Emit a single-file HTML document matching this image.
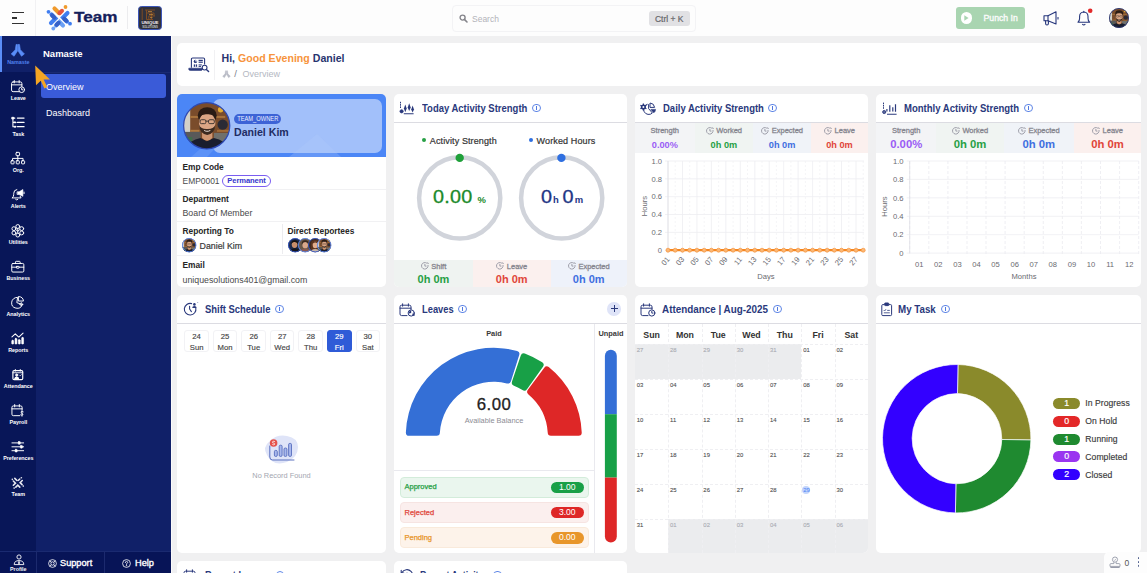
<!DOCTYPE html>
<html lang="en">
<head>
<meta charset="utf-8">
<title>Team - Overview</title>
<style>
*{box-sizing:border-box;margin:0;padding:0}
html,body{width:1147px;height:573px;overflow:hidden}
body{font-family:"Liberation Sans",sans-serif;background:#f0f0f1;color:#222;position:relative;font-size:9px}
.abs{position:absolute}
svg{display:block;overflow:visible}
/* header */
#hdr{position:absolute;left:0;top:0;width:1147px;height:36px;background:#fdfdfd}
/* sidebars */
#rail{position:absolute;left:0;top:36px;width:36px;height:537px;background:#081658}
#side{position:absolute;left:36px;top:36px;width:135px;height:537px;background:#102068}
.ri{position:absolute;left:0;width:36.6px;text-align:center;color:#f4f4f8;font-size:5.4px;font-weight:bold;letter-spacing:-.05px;white-space:nowrap}
.ri svg{margin:0 auto}
/* cards */
.card{position:absolute;background:#fff;border-radius:5px;overflow:hidden}
.info{display:inline-block;width:8.8px;height:8.8px;border:1px solid #5f86e6;border-radius:50%;position:relative}
.info:before{content:"";position:absolute;left:2.95px;top:2.9px;width:.9px;height:2.7px;background:#4f78e0}
.info:after{content:"";position:absolute;left:2.95px;top:1.3px;width:.9px;height:.9px;background:#4f78e0}
.lb{position:absolute;left:5.5px;font-size:8.35px;font-weight:bold;color:#262626;line-height:11px;white-space:nowrap}
.vl{position:absolute;left:5.5px;font-size:8.8px;color:#4a4a4a;line-height:11px;white-space:nowrap}
.hr{position:absolute;left:0;right:0;height:1px;background:#f1f1f3}
.ct{position:absolute;left:0;top:0;right:0;height:29px;border-bottom:1.3px solid #dcdce2;color:#2a397c;font-weight:bold;font-size:9.5px;line-height:14px;white-space:nowrap}
.ct .t{position:absolute;top:7.6px;font-size:10px;transform-origin:0 50%}
.ct .info{position:absolute;top:9.9px;margin:-.4px 0 0 -.4px}
.sc{position:absolute;text-align:center;white-space:nowrap}
.sc .l{position:absolute;left:0;right:0;font-size:7.5px;line-height:10px;color:#86868f;-webkit-text-stroke:.3px #86868f}
.sc .v{position:absolute;left:0;right:0;font-weight:bold}
.ck{display:inline-block;vertical-align:-1.4px;margin-right:2.6px}
.gr{color:#27a045}.rd{color:#e0453a}.bl{color:#3f6fe0}.pu{color:#9a5cf5}
.ax{font-size:7.6px;fill:#6a6a70;font-family:"Liberation Sans",sans-serif}
.dy{position:absolute;top:34.8px;width:24.6px;height:22px;border:1px solid #f2f2f5;border-radius:3px;text-align:center;font-size:7.7px;line-height:11px;color:#454545;padding-top:0;-webkit-text-stroke:.15px currentColor}
.cc{position:absolute;font-size:5.9px;line-height:8px;padding:2.1px 0 0 1.8px;-webkit-text-stroke:.1px currentColor}
</style>
</head>
<body>

<svg width="0" height="0" style="position:absolute">
<defs>
<symbol id="face" viewBox="0 0 46 46">
  <clipPath id="fc"><circle cx="23" cy="23" r="22.5"/></clipPath>
  <g clip-path="url(#fc)">
    <rect width="46" height="46" fill="#7a4c2b"/>
    <rect x="0" y="6" width="7" height="30" fill="#d2d0c8"/>
    <rect x="7" y="13.5" width="34" height="2" fill="#a8733c"/>
    <rect x="7" y="27" width="9" height="2" fill="#b07a40"/>
    <rect x="33" y="27" width="13" height="2" fill="#a06a36"/>
    <rect x="0" y="29" width="17" height="17" fill="#595959"/>
    <rect x="3" y="34" width="6" height="8" fill="#3f6e4a"/>
    <circle cx="36.5" cy="7.5" r="2.6" fill="#e2ac34"/>
    <circle cx="38.5" cy="22" r="5" fill="#2b2a35"/>
    <rect x="30" y="30" width="14" height="10" fill="#70706c"/>
    <path d="M2 46 Q6 37 17 35 L23 38 L30 35 Q41 37 45 46 Z" fill="#1a1e2e"/>
    <path d="M18.5 28 H28.5 V35 Q23.5 40 18.5 35 Z" fill="#cf9672"/>
    <ellipse cx="23.5" cy="13" rx="9.2" ry="8" fill="#2a1c15"/>
    <ellipse cx="23.5" cy="20.5" rx="8" ry="10" fill="#dba685"/>
    <path d="M15.6 22 Q16 30.5 23.5 32 Q31 30.5 31.4 22 Q29.5 26.5 23.5 26.2 Q17.5 26.5 15.6 22 Z" fill="#3b2a20"/>
    <path d="M20.5 27.5 Q23.5 29.3 26.5 27.5" stroke="#f0e6e0" stroke-width="1" fill="none"/>
    <path d="M15.5 14.5 Q18 9 23.5 9.5 Q29 9 31.5 14.5 Q28 11.5 23.5 12 Q19 11.5 15.5 14.5 Z" fill="#2a1c15"/>
    <g stroke="#3a332f" stroke-width=".9" fill="none"><rect x="16.6" y="17.2" width="5.6" height="3.8" rx="1.2"/><rect x="24.8" y="17.2" width="5.6" height="3.8" rx="1.2"/><path d="M22.2 18.6 H24.8"/></g>
  </g>
</symbol>
<symbol id="face2" viewBox="0 0 46 46"><clipPath id="fc2"><circle cx="23" cy="23" r="22.5"/></clipPath><g clip-path="url(#fc2)"><rect width="46" height="46" fill="#1d2a4a"/><path d="M4 46 Q8 34 23 33 Q38 34 42 46 Z" fill="#15161c"/><ellipse cx="21" cy="21" rx="9" ry="11" fill="#c98e6a"/><path d="M11 20 Q10 6 23 7 Q34 7 31 19 Q27 12 19 13 Q13 14 11 20 Z" fill="#1a1410"/></g></symbol>
<symbol id="face3" viewBox="0 0 46 46"><clipPath id="fc3"><circle cx="23" cy="23" r="22.5"/></clipPath><g clip-path="url(#fc3)"><rect width="46" height="46" fill="#6a5848"/><path d="M4 46 Q8 35 23 34 Q38 35 42 46 Z" fill="#8a5a50"/><ellipse cx="23" cy="22" rx="9" ry="11" fill="#d9a88a"/><path d="M12 22 Q10 7 23 7 Q36 7 34 22 Q31 13 23 13 Q15 13 12 22 Z" fill="#3a2a1e"/></g></symbol>
<symbol id="face4" viewBox="0 0 46 46"><clipPath id="fc4"><circle cx="23" cy="23" r="22.5"/></clipPath><g clip-path="url(#fc4)"><rect width="46" height="46" fill="#3a2a22"/><path d="M9 46 V22 Q9 6 23 6 Q37 6 37 22 V46 Z" fill="#5a3420"/><path d="M6 46 Q10 36 23 35 Q36 36 40 46 Z" fill="#c9b8a8"/><ellipse cx="23" cy="22" rx="8" ry="10.5" fill="#e0ad8c"/><path d="M14 20 Q15 10 23 10 Q31 10 32 20 Q28 14 23 14.5 Q18 14 14 20 Z" fill="#5a3420"/></g></symbol>
</defs>
</svg>
<!-- ================= HEADER ================= -->
<div id="hdr">
  <!-- hamburger -->
  <div class="abs" style="left:12px;top:12px;width:12px;height:1.4px;background:#333"></div>
  <div class="abs" style="left:12px;top:17.3px;width:5px;height:1.4px;background:#333"></div>
  <div class="abs" style="left:12px;top:22.6px;width:12px;height:1.4px;background:#333"></div>
  <div class="abs" style="left:35px;top:0;width:1px;height:36px;background:#f1f1f3"></div>
  <!-- logo mark -->
  <svg class="abs" style="left:46px;top:4px" width="27" height="28" viewBox="0 0 27 28">
    <g stroke-linecap="round" fill="none" stroke-width="4.1">
      <path d="M8.5 4.5 L13 9" stroke="#f09a2c"/>
      <path d="M13.5 9.2 L16 6.8" stroke="#e4533f"/>
      <path d="M5.5 10.5 L9.5 14.5 L5 19" stroke="#3f7df0"/>
      <path d="M6.2 11.5 L8.3 13.6" stroke="#3560c8"/>
      <path d="M21.5 9 L17 13.5 L21 17.5" stroke="#3f7df0"/>
      <path d="M18.2 14.7 L20.2 16.7" stroke="#3560c8"/>
      <path d="M10 21.5 L13.5 18 L17 21.5" stroke="#6ba0f5"/>
      <path d="M10.6 20.8 L12.6 18.8" stroke="#3560c8"/>
    </g>
    <circle cx="19.5" cy="3" r="1.9" fill="#f09a2c"/>
    <circle cx="2.5" cy="7.8" r="1.9" fill="#3f7df0"/>
    <circle cx="24" cy="19.7" r="1.9" fill="#3f7df0"/>
    <circle cx="7.3" cy="24.5" r="1.9" fill="#6ba0f5"/>
  </svg>
  <div class="abs" style="left:74px;top:8.3px;font-size:14px;font-weight:bold;color:#14205a;line-height:19px;transform:scaleX(1.225);transform-origin:0 0;-webkit-text-stroke:.3px #14205a">Team</div>
  <div class="abs" style="left:127px;top:6px;width:1px;height:23px;background:#ececee"></div>
  <!-- company logo -->
  <div class="abs" style="left:138px;top:6px;width:23.5px;height:24px;border-radius:3.5px;background:#31313b;border:1px solid #3b55b8;overflow:hidden">
    <svg class="abs" style="left:0;top:0" width="22" height="22" viewBox="0 0 22 22">
      <path d="M3.2 1.5 V13 M6 3 H16 M7.5 3 V12.5 M7.5 6 H15 M15 6 V9 M9.8 9 H16 M9.8 9 V12 M12.5 6 V12 M7.5 12.5 H14" stroke="#7d4c24" stroke-width="1" fill="none"/>
      <path d="M9 4.6 H13 M10 7.6 H14 M11 10.6 H13.5" stroke="#c78a3a" stroke-width=".8" fill="none"/>
      <text x="11" y="17.2" font-size="4.4" font-weight="bold" fill="#f2f2f2" text-anchor="middle" font-family="Liberation Sans, sans-serif">UNIQUE</text>
      <text x="11" y="20.6" font-size="2.7" font-weight="bold" fill="#cfcfcf" text-anchor="middle" font-family="Liberation Sans, sans-serif">SOLUTIONS</text>
    </svg>
  </div>
  <!-- search -->
  <div class="abs" style="left:452px;top:5px;width:243.5px;height:26.5px;border:1px solid #f3f3f5;border-radius:4px;background:#fdfdfd"></div>
  <svg class="abs" style="left:459px;top:13.5px" width="9" height="9" viewBox="0 0 9 9"><circle cx="3.6" cy="3.6" r="2.5" fill="none" stroke="#85858b" stroke-width="1.4"/><path d="M5.6 5.6 L8 8" stroke="#85858b" stroke-width="1.6" stroke-linecap="round"/></svg>
  <div class="abs" style="left:472px;top:12.5px;font-size:8.5px;line-height:12px;color:#b3b3ba">Search</div>
  <div class="abs" style="left:649px;top:11px;width:40.5px;height:15px;border-radius:3px;background:#e1e1e4;color:#66666a;font-size:8.5px;line-height:16px;text-align:center;-webkit-text-stroke:.2px #66666a">Ctrl + K</div>
  <!-- punch in -->
  <div class="abs" style="left:955.5px;top:7px;width:69px;height:22px;border-radius:3px;background:#a9d5b1"></div>
  <div class="abs" style="left:960.5px;top:12.3px;width:11.4px;height:11.4px;border-radius:50%;background:#fff"></div>
  <svg class="abs" style="left:964.3px;top:15.2px" width="5" height="6" viewBox="0 0 5 6"><path d="M.3 .3 L4.6 3 L.3 5.7 Z" fill="#a9d5b1"/></svg>
  <div class="abs" style="left:983.5px;top:12px;font-size:8.7px;line-height:12px;color:#fbfbfb;-webkit-text-stroke:.35px #fbfbfb">Punch In</div>
  <!-- megaphone -->
  <svg class="abs" style="left:1042px;top:10px" width="18" height="17" viewBox="0 0 18 17">
    <g fill="none" stroke="#26367c" stroke-width="1.1" stroke-linejoin="round" stroke-linecap="round">
      <path d="M2 5.8 H6 L14 1.8 V14 L6 10.8 H2 Z"/>
      <path d="M6 5.8 V10.8"/>
      <path d="M3.6 10.8 V13.6 Q3.6 15 5 15 Q6.4 15 6.4 13.6 V11"/>
      <path d="M16 7.6 V9"/>
    </g>
  </svg>
  <!-- bell -->
  <svg class="abs" style="left:1076px;top:9px" width="18" height="18" viewBox="0 0 18 18">
    <g fill="none" stroke="#26367c" stroke-width="1.1" stroke-linejoin="round" stroke-linecap="round">
      <path d="M2 13.2 Q3.6 12 3.6 9.2 V7.6 Q3.6 3.2 7.8 3 Q12 3.2 12 7.6 V9.2 Q12 12 13.6 13.2 Z"/>
      <path d="M6.6 15.3 Q7.8 16.6 9 15.3"/>
      <path d="M7.8 2.2 V3"/>
    </g>
    <circle cx="14.2" cy="1.8" r="2.3" fill="#e22a2a"/>
  </svg>
  <!-- avatar -->
  <svg class="abs" style="left:1109px;top:8px" width="20" height="20" viewBox="0 0 46 46">
    <use href="#face"/>
    <circle cx="23" cy="23" r="22" fill="none" stroke="#2a3a7a" stroke-width="2"/>
  </svg>
</div>

<!-- ================= SIDEBARS ================= -->
<div id="rail">
  <div class="abs" style="left:0;top:0;width:36px;height:36px;background:#102068"></div>
  <div class="abs" style="left:0;top:0;width:1.6px;height:36px;background:#5a8df8"></div>
  <svg class="abs" style="left:10.2px;top:7.3px" width="15.6" height="15.6" viewBox="0 0 16 16"><path d="M6.2 1.8 Q6.9 .2 7.7 1.8 V8.2 L4.2 13.6 L1.2 11.2 L5.4 6.8 Z M9.8 1.8 Q9.1 .2 8.3 1.8 V8.2 L11.8 13.6 L14.8 11.2 L10.6 6.8 Z" fill="#5a8df8" stroke="#5a8df8" stroke-width=".6" stroke-linejoin="round"/></svg>
  <div class="ri" style="top:22.8px;line-height:7px;color:#4f80ee">Namaste</div>
  <svg class="abs" style="left:10.2px;top:43.3px" width="15.6" height="15.6" viewBox="0 0 16 16"><g stroke="#fff" fill="none" stroke-width="1" stroke-linecap="round" stroke-linejoin="round"><rect x="1.6" y="3" width="10.6" height="10" rx="1.6"/><path d="M1.6 6 H12.2 M4.4 1.6 V4 M9.4 1.6 V4"/><circle cx="12" cy="11" r="2.9" fill="#081658"/><path d="M12 9.6 V11.1 H13.1"/></g></svg>
  <div class="ri" style="top:58.8px;line-height:7px;color:#fff">Leave</div>
  <svg class="abs" style="left:10.2px;top:79.3px" width="15.6" height="15.6" viewBox="0 0 16 16"><g stroke="#fff" fill="none" stroke-width="1" stroke-linecap="round" stroke-linejoin="round"><path d="M3 3.2 V12 M3 7.6 H5 M3 12 H5 M3 3.2 H5" stroke-width="1.1"/><path d="M7.6 3.2 H14.4 M7.6 7.6 H14.4 M7.6 12 H14.4" stroke-width="1.3"/><rect x="2.2" y="2.4" width="1.6" height="1.6" fill="#fff"/><circle cx="5.2" cy="7.6" r=".7" fill="#fff"/><circle cx="5.2" cy="12" r=".7" fill="#fff"/></g></svg>
  <div class="ri" style="top:94.8px;line-height:7px;color:#fff">Task</div>
  <svg class="abs" style="left:10.2px;top:115.3px" width="15.6" height="15.6" viewBox="0 0 16 16"><g stroke="#fff" fill="none" stroke-width="1" stroke-linecap="round" stroke-linejoin="round"><rect x="6.2" y="1.4" width="3.6" height="3.4" rx=".7"/><path d="M8 4.8 V7.6 M2.6 10 V7.6 H13.4 V10 M8 7.6 V10"/><rect x="1" y="10" width="3.2" height="3.2" rx=".7"/><rect x="6.4" y="10" width="3.2" height="3.2" rx=".7"/><rect x="11.8" y="10" width="3.2" height="3.2" rx=".7"/></g></svg>
  <div class="ri" style="top:130.8px;line-height:7px;color:#fff">Org.</div>
  <svg class="abs" style="left:10.2px;top:151.3px" width="15.6" height="15.6" viewBox="0 0 16 16"><g stroke="#fff" fill="none" stroke-width="1" stroke-linecap="round" stroke-linejoin="round"><path d="M2.4 11.2 Q3.8 10 3.8 7.6 V6.6 Q3.8 3 7 2.6 M2.4 11.2 H11.4 Q10.6 10.4 10.4 9.4"/><path d="M5.8 12.8 Q6.9 13.9 8 12.8"/><path d="M7.6 5 H9.4 L13.2 2.6 V9.6 L9.4 7.6 H7.6 Z" fill="#fff" stroke-width=".7"/><path d="M14.4 5.2 V6.8"/></g></svg>
  <div class="ri" style="top:166.8px;line-height:7px;color:#fff">Alerts</div>
  <svg class="abs" style="left:10.2px;top:187.3px" width="15.6" height="15.6" viewBox="0 0 16 16"><g stroke="#fff" fill="none" stroke-width="1" stroke-linecap="round" stroke-linejoin="round"><circle cx="8" cy="3.6" r="2"/><circle cx="8" cy="12.4" r="2"/><circle cx="4" cy="5.8" r="2"/><circle cx="12" cy="5.8" r="2"/><circle cx="4" cy="10.2" r="2"/><circle cx="12" cy="10.2" r="2"/><path d="M8 5.6 V10.4 M6.2 7 L8 8.4 L9.8 7"/></g></svg>
  <div class="ri" style="top:202.8px;line-height:7px;color:#fff">Utilities</div>
  <svg class="abs" style="left:10.2px;top:223.3px" width="15.6" height="15.6" viewBox="0 0 16 16"><g stroke="#fff" fill="none" stroke-width="1" stroke-linecap="round" stroke-linejoin="round"><rect x="1.8" y="4.6" width="12.4" height="8.8" rx="1.2"/><path d="M5.6 4.6 V3.2 Q5.6 2.4 6.4 2.4 H9.6 Q10.4 2.4 10.4 3.2 V4.6 M1.8 8.4 H6.6 M9.4 8.4 H14.2"/><rect x="6.6" y="7.6" width="2.8" height="1.8" rx=".4"/></g></svg>
  <div class="ri" style="top:238.8px;line-height:7px;color:#fff">Business</div>
  <svg class="abs" style="left:10.2px;top:259.3px" width="15.6" height="15.6" viewBox="0 0 16 16"><g stroke="#fff" fill="none" stroke-width="1" stroke-linecap="round" stroke-linejoin="round"><path d="M7.4 2.4 A5.6 5.6 0 1 0 12.6 9.8 L7.4 8 Z"/><path d="M9 1.6 A5 5 0 0 1 13.8 6.2 L9 6.2 Z"/><circle cx="11.6" cy="9.6" r="1.2" stroke-width=".8"/><path d="M11.6 7.8 V8.3 M11.6 10.9 V11.4 M9.9 9.6 H10.4 M12.9 9.6 H13.4" stroke-width=".8"/></g></svg>
  <div class="ri" style="top:274.8px;line-height:7px;color:#fff">Analytics</div>
  <svg class="abs" style="left:10.2px;top:295.3px" width="15.6" height="15.6" viewBox="0 0 16 16"><g stroke="#fff" fill="none" stroke-width="1" stroke-linecap="round" stroke-linejoin="round"><path d="M2 6 L5.4 3 L9 6.2 L13.4 2.2" stroke-width="1.1"/><g fill="#fff" stroke-width=".6"><rect x="1.8" y="9.6" width="1.9" height="3.8" rx=".6"/><rect x="5.2" y="7.6" width="1.9" height="5.8" rx=".6"/><rect x="8.6" y="9" width="1.9" height="4.4" rx=".6"/><rect x="12" y="6.6" width="1.9" height="6.8" rx=".6"/></g></g></svg>
  <div class="ri" style="top:310.8px;line-height:7px;color:#fff">Reports</div>
  <svg class="abs" style="left:10.2px;top:331.3px" width="15.6" height="15.6" viewBox="0 0 16 16"><g transform="translate(1.3 1.2) scale(.84)" stroke="#fff" fill="none" stroke-width="1.1" stroke-linecap="round" stroke-linejoin="round"><rect x="2" y="3" width="12" height="11" rx="1.4" stroke-width="1.4"/><path d="M5 1.6 V3.6 M11 1.6 V3.6 M2 5.6 H14"/><circle cx="6.6" cy="8.4" r="1.3" fill="#fff"/><path d="M4 13.4 Q4 10.6 6.6 10.6 Q9.2 10.6 9.2 13.4 Z" fill="#fff"/><path d="M10.2 8.6 L11 9.4 L12.4 7.8" stroke-width=".8"/></g></svg>
  <div class="ri" style="top:346.8px;line-height:7px;color:#fff">Attendance</div>
  <svg class="abs" style="left:10.2px;top:367.3px" width="15.6" height="15.6" viewBox="0 0 16 16"><g stroke="#fff" fill="none" stroke-width="1" stroke-linecap="round" stroke-linejoin="round"><path d="M10 13 H3.4 Q2 13 2 11.6 V4.4 Q2 3 3.4 3 H11 Q12.4 3 12.4 4.4 V7"/><path d="M2 6 H12.4 M4.8 1.6 V4 M9.6 1.6 V4"/><path d="M13.6 9 Q12.2 8.2 11.4 9 Q10.8 10 12.2 10.6 Q13.8 11.2 13.2 12.2 Q12.4 13 11 12.2 M12.3 7.8 V13.6" stroke-width=".9"/></g></svg>
  <div class="ri" style="top:382.8px;line-height:7px;color:#fff">Payroll</div>
  <svg class="abs" style="left:10.2px;top:403.3px" width="15.6" height="15.6" viewBox="0 0 16 16"><g stroke="#fff" fill="none" stroke-width="1" stroke-linecap="round" stroke-linejoin="round"><path d="M2 4 H14 M2 8 H14 M2 12 H14" stroke-width="1"/><rect x="8.4" y="2.6" width="2.2" height="2.8" rx=".6" fill="#fff" stroke-width=".5"/><rect x="10.6" y="6.6" width="2.2" height="2.8" rx=".6" fill="#fff" stroke-width=".5"/><rect x="5.2" y="10.6" width="2.2" height="2.8" rx=".6" fill="#fff" stroke-width=".5"/></g></svg>
  <div class="ri" style="top:418.8px;line-height:7px;color:#fff">Preferences</div>
  <svg class="abs" style="left:10.2px;top:439.3px" width="15.6" height="15.6" viewBox="0 0 16 16"><g transform="translate(1.2 1.2) scale(.85)"><g stroke="#e8e8f0" fill="none" stroke-width="1.9" stroke-linecap="round"><path d="M4.4 2.6 L7 5.2 M8.8 5 L10.4 3.4"/><path d="M2.6 5.8 L5.2 8.4 L2.6 11"/><path d="M13.4 5.2 L10.8 7.8 L13.2 10.2"/><path d="M5.6 13.2 L8 10.8 L10.4 13.2"/></g><g fill="#e8e8f0"><circle cx="12.3" cy="1.9" r="1"/><circle cx="1.4" cy="3.8" r="1"/><circle cx="14.6" cy="12" r="1"/><circle cx="3.6" cy="14.4" r="1"/></g></g></svg>
  <div class="ri" style="top:454.8px;line-height:7px;color:#fff">Team</div>
  <div class="abs" style="left:0;top:515px;width:36px;height:22px;background:#071457;border-top:1px solid #1a2a70"></div>
  <svg class="abs" style="left:12.5px;top:518px" width="12" height="12" viewBox="0 0 12 12"><g stroke="#fff" fill="none" stroke-width=".9" stroke-linejoin="round"><circle cx="6" cy="3" r="2.1"/><path d="M1.2 10.6 Q1.2 6.6 6 6.6 Q10.8 6.6 10.8 10.6 Z"/><path d="M6 6.8 L5.2 9 L6 10.4 L6.8 9 Z" fill="#fff" stroke-width=".4"/></g></svg>
  <div class="ri" style="top:529.5px;line-height:7px">Profile</div>
</div>
<div id="side">
  <div class="abs" style="left:7px;top:11px;font-size:9.5px;font-weight:bold;color:#fff;line-height:14px">Namaste</div>
  <div class="abs" style="left:0;top:35.5px;width:135px;height:1px;background:#1a2a72"></div>
  <div class="abs" style="left:5px;top:38px;width:125px;height:24px;border-radius:3px;background:#3a5bd8"></div>
  <div class="abs" style="left:10px;top:44.5px;font-size:9px;color:#fff;line-height:12px">Overview</div>
  <div class="abs" style="left:10px;top:71px;font-size:9px;color:#fff;line-height:12px">Dashboard</div>
  <!-- bottom bar -->
  <div class="abs" style="left:0;top:515px;width:135px;height:22px;background:#071457;border-top:1px solid #1a2a70"></div>
  <div class="abs" style="left:0;top:515px;width:1px;height:22px;background:#1c2a6e"></div>
  <div class="abs" style="left:68px;top:515px;width:1px;height:22px;background:#1c2a6e"></div>
  <svg class="abs" style="left:11.5px;top:522.5px" width="9" height="9" viewBox="0 0 9 9"><g stroke="#fff" fill="none" stroke-width=".8"><circle cx="4.5" cy="4.5" r="3.9"/><circle cx="4.5" cy="4.5" r="1.7"/><path d="M1.8 1.8 L3.3 3.3 M7.2 1.8 L5.7 3.3 M1.8 7.2 L3.3 5.7 M7.2 7.2 L5.7 5.7"/></g></svg>
  <div class="abs" style="left:24px;top:520.5px;font-size:9.2px;color:#fff;line-height:13px;-webkit-text-stroke:.35px #fff">Support</div>
  <svg class="abs" style="left:85.5px;top:522.5px" width="9" height="9" viewBox="0 0 9 9"><g stroke="#fff" fill="none" stroke-width=".8"><circle cx="4.5" cy="4.5" r="3.9"/><path d="M3.3 3.6 Q3.3 2.4 4.5 2.4 Q5.7 2.4 5.7 3.5 Q5.7 4.2 4.5 4.7 V5.4" stroke-linecap="round"/><circle cx="4.5" cy="6.6" r=".3" fill="#fff"/></g></svg>
  <div class="abs" style="left:99px;top:520.5px;font-size:9.2px;color:#fff;line-height:13px;-webkit-text-stroke:.35px #fff">Help</div>
</div>
<div class="abs" style="left:171px;top:36px;width:1.4px;height:537px;background:#fafafb"></div>
<!-- cursor -->
<svg class="abs" style="left:33.6px;top:63.6px;z-index:20" width="18" height="26" viewBox="0 0 18 26"><path d="M1.2 1.6 L16 15.4 L9.6 15.6 L13.2 23 L10.4 24.4 L6.8 16.8 L2 21.2 Z" fill="#f5a623"/></svg>

<!-- ================= GREETING ================= -->
<div class="card" id="greet" style="left:177px;top:43px;width:964px;height:43px">
  <svg class="abs" style="left:10.5px;top:13.5px" width="23" height="17" viewBox="0 0 23 17">
    <g fill="none" stroke="#2a397c" stroke-width="1.1" stroke-linejoin="round">
      <path d="M3.4 10.8 V2.2 Q3.4 1 4.6 1 H15.4 Q16.6 1 16.6 2.2 V7.6"/>
      <path d="M.8 11.2 H14.4 V12.2 Q14.4 13.4 13 13.4 H2.4 Q.8 13.4 .8 12.2 Z" fill="#2a397c" stroke-width=".6"/>
      <circle cx="16.6" cy="10.6" r="2.4"/>
      <path d="M18.4 12.4 L20.6 14.6" stroke-linecap="round" stroke-width="1.4"/>
    </g>
    <g fill="#2a397c"><circle cx="7.4" cy="4.4" r="1.7"/><rect x="10.6" y="2.8" width="4.2" height="1.2"/><rect x="10.6" y="4.6" width="4.2" height="1.2"/><rect x="5.8" y="7.4" width="1.3" height="2.4"/><rect x="7.8" y="7.4" width="1.3" height="2.4"/><rect x="10.6" y="7.4" width="3.2" height="1"/><rect x="10.6" y="8.9" width="2.4" height="1"/></g>
    <path d="M7.4 4.4 V2.7 A1.7 1.7 0 0 1 9.1 4.4 Z" fill="#fff"/>
  </svg>
  <div class="abs" style="left:37px;top:7px;width:1px;height:30px;background:#f1f1f3"></div>
  <div class="abs" id="hi" style="left:44.5px;top:7.5px;font-size:10.6px;font-weight:bold;color:#27346f;line-height:14px;white-space:nowrap">Hi, <span style="color:#f7943c">Good Evening</span> Daniel</div>
  <svg class="abs" style="left:44.5px;top:26.5px" width="9" height="9" viewBox="0 0 16 16"><path d="M6.2 1.8 Q6.9 .2 7.7 1.8 V8.2 L4.2 13.6 L1.2 11.2 L5.4 6.8 Z M9.8 1.8 Q9.1 .2 8.3 1.8 V8.2 L11.8 13.6 L14.8 11.2 L10.6 6.8 Z" fill="#b9bcc6" stroke="#b9bcc6" stroke-width=".8"/></svg>
  <div class="abs" style="left:57.2px;top:26.3px;font-size:9.5px;color:#7a7d88;line-height:10px">/</div>
  <div class="abs" id="bc" style="left:65.5px;top:26.3px;font-size:9px;color:#b4b8c2;line-height:10px">Overview</div>
</div>

<!-- ================= ROW 1 ================= -->
<div class="card" id="c1" style="left:177px;top:94px;width:209px;height:193px">
  <div class="abs" style="left:0;top:0;width:209px;height:63px;background:#4b86f6;overflow:hidden">
    <div class="abs" style="left:36px;top:4.5px;width:169.2px;height:54px;border-radius:7px;background:#a2c0fa"></div>
    <svg class="abs" style="left:0;top:0" width="209" height="63" viewBox="0 0 209 63"><path d="M14 63 L40 40 H52 L30 63 Z" fill="#6e9df8" opacity=".5"/><path d="M112 63 L140 40 L164 63 Z" fill="#b4cdfc" opacity=".25"/></svg>
  </div>
  <svg class="abs" style="left:6.3px;top:8.3px" width="47.4" height="47.4" viewBox="0 0 46 46"><use href="#face"/><circle cx="23" cy="23" r="22.4" fill="none" stroke="#2d49b4" stroke-width="1.2"/></svg>
  <div class="abs" style="left:57px;top:19.5px;width:47px;height:10px;border-radius:5px;background:#3d63d6;color:#eaf0ff;font-size:7.2px;line-height:10.2px;text-align:center;overflow:hidden"><span style="display:inline-block;transform:scaleX(.8);transform-origin:50% 50%;margin:0 -8px;white-space:nowrap">TEAM_OWNER</span></div>
  <div class="abs" id="nm" style="left:57px;top:30.8px;font-size:10.6px;font-weight:bold;color:#212c63;line-height:14px">Daniel Kim</div>

  <div class="lb" style="top:68px">Emp Code</div>
  <div class="vl" style="top:82.3px;font-size:8.45px">EMP0001</div>
  <div class="abs" style="left:45px;top:80.5px;width:49px;height:12.5px;border:1px solid #7a5df0;border-radius:7px;color:#3636cc;font-size:7.6px;font-weight:bold;line-height:10.5px;text-align:center;letter-spacing:-.1px">Permanent</div>
  <div class="hr" style="top:95px"></div>
  <div class="lb" style="top:100px">Department</div>
  <div class="vl" style="top:114.3px">Board Of Member</div>
  <div class="hr" style="top:127px"></div>
  <div class="lb" style="top:132px">Reporting To</div>
  <svg class="abs" style="left:5.3px;top:144.4px" width="14.4" height="14.4" viewBox="0 0 46 46"><use href="#face"/><circle cx="23" cy="23" r="21.5" fill="none" stroke="#4f7de8" stroke-width="3"/></svg>
  <div class="vl" style="left:22.6px;top:147.3px;color:#3a3a3a;-webkit-text-stroke:.2px #3a3a3a">Daniel Kim</div>
  <div class="abs" style="left:105px;top:130px;width:1px;height:30px;background:#ececef"></div>
  <div class="lb" style="left:110.5px;top:132px">Direct Reportees</div>
  <svg class="abs" style="left:111px;top:144.4px" width="14.4" height="14.4" viewBox="0 0 46 46"><use href="#face2"/><circle cx="23" cy="23" r="21.5" fill="none" stroke="#3558c8" stroke-width="3"/></svg>
  <svg class="abs" style="left:120.8px;top:144.4px" width="14.4" height="14.4" viewBox="0 0 46 46"><use href="#face3"/><circle cx="23" cy="23" r="21.5" fill="none" stroke="#5a86ee" stroke-width="3"/></svg>
  <svg class="abs" style="left:130.6px;top:144.4px" width="14.4" height="14.4" viewBox="0 0 46 46"><use href="#face4"/><circle cx="23" cy="23" r="21.5" fill="none" stroke="#3558c8" stroke-width="3"/></svg>
  <svg class="abs" style="left:140.4px;top:144.4px" width="14.4" height="14.4" viewBox="0 0 46 46"><use href="#face"/><circle cx="23" cy="23" r="21.5" fill="none" stroke="#5a86ee" stroke-width="3"/></svg>
  <div class="hr" style="top:160.8px"></div>
  <div class="lb" style="top:166px">Email</div>
  <div class="vl" style="top:180.8px">uniquesolutions401@gmail.com</div>
</div>
<div class="card" id="c2" style="left:394px;top:94px;width:233px;height:193px">
  <div class="ct">
    <svg class="abs" style="left:5px;top:7px" width="16" height="14" viewBox="0 0 16 14"><g stroke="#2a397c" fill="none"><path d="M1.5 .8 V7" stroke-width="1" stroke-dasharray="1.6 .7"/><circle cx="2.6" cy="10.3" r="1.6" fill="#2a397c" stroke-width=".8"/><path d="M4.8 12.8 H14.6" stroke-width="1.1"/></g><g fill="#2a397c"><path d="M6.3 3.4 L7.7 7.6 L6.3 11.2 L4.9 7.6 Z"/><path d="M10.2 2.2 L11.7 6.4 L10.2 10 L8.7 6.4 Z"/><path d="M13.6 4.6 L15 8.4 L13.6 11.6 L12.2 8.4 Z"/></g></svg>
    <div class="t" style="left:27.6px;transform:scaleX(0.948)">Today Activity Strength</div><span class="info" style="left:138.4px"></span>
  </div>
  <div class="abs" style="left:28.4px;top:44.3px;width:4px;height:4px;border-radius:50%;background:#27a045"></div>
  <div class="abs" style="left:35.8px;top:40.5px;font-size:8.6px;line-height:12px;color:#333;white-space:nowrap;-webkit-text-stroke:.2px #333;letter-spacing:.12px;font-size:9px">Activity Strength</div>
  <div class="abs" style="left:135.2px;top:44.3px;width:4px;height:4px;border-radius:50%;background:#2f6fe0"></div>
  <div class="abs" style="left:142.6px;top:40.5px;font-size:8.6px;line-height:12px;color:#333;white-space:nowrap;-webkit-text-stroke:.2px #333;letter-spacing:.12px;font-size:9px">Worked Hours</div>
  <svg class="abs" style="left:0;top:0" width="233" height="193" viewBox="0 0 233 193">
    <circle cx="65.7" cy="103.9" r="40.6" fill="none" stroke="#d1d4db" stroke-width="4.5"/>
    <circle cx="65.7" cy="63.9" r="4.2" fill="#1fa03a"/>
    <circle cx="167.7" cy="103.9" r="40.6" fill="none" stroke="#d1d4db" stroke-width="4.5"/>
    <circle cx="167.4" cy="63.9" r="4.2" fill="#2f6fe0"/>
  </svg>
  <div class="abs" style="left:39.2px;top:93px;font-size:18px;line-height:20px;color:#1a8a2a;letter-spacing:.2px;white-space:nowrap;-webkit-text-stroke:.3px #1a8a2a;transform:scaleX(1.1);transform-origin:0 50%">0.00<span style="font-size:8.6px;font-weight:bold;letter-spacing:0;margin-left:4.6px;-webkit-text-stroke:0">%</span></div>
  <div class="abs" style="left:147.2px;top:93px;font-size:18px;line-height:20px;color:#1d3585;white-space:nowrap;-webkit-text-stroke:.3px #1d3585;transform:scaleX(1.1);transform-origin:0 50%">0<span style="font-size:8.6px;font-weight:bold;margin:0 3.4px 0 1px;-webkit-text-stroke:0">h</span>0<span style="font-size:8.6px;font-weight:bold;margin-left:1px;-webkit-text-stroke:0">m</span></div>
  <!-- bottom strip -->
  <div class="sc" style="left:0;top:165.5px;width:79px;height:27.5px;background:#eff3f1"><div class="l" style="top:2.2px"><svg class="ck" width="8" height="8" viewBox="0 0 8 8"><g fill="none" stroke="#9a9aa5" stroke-width=".95" stroke-linecap="round"><path d="M5.6 1 A3.3 3.3 0 1 0 7.1 3.4"/><path d="M3.9 2.4 V4.1 H5.1"/><path d="M6.6 .6 V1.5 H7.5" stroke-width=".7"/></g></svg>Shift</div><div class="v gr" style="top:12.6px;font-size:11px;line-height:14px">0h 0m</div></div>
  <div class="sc" style="left:79px;top:165.5px;width:77.5px;height:27.5px;background:#fbf0ee"><div class="l" style="top:2.2px"><svg class="ck" width="8" height="8" viewBox="0 0 8 8"><g fill="none" stroke="#9a9aa5" stroke-width=".95" stroke-linecap="round"><path d="M5.6 1 A3.3 3.3 0 1 0 7.1 3.4"/><path d="M3.9 2.4 V4.1 H5.1"/><path d="M6.6 .6 V1.5 H7.5" stroke-width=".7"/></g></svg>Leave</div><div class="v rd" style="top:12.6px;font-size:11px;line-height:14px">0h 0m</div></div>
  <div class="sc" style="left:156.5px;top:165.5px;width:76.5px;height:27.5px;background:#eef2fa"><div class="l" style="top:2.2px"><svg class="ck" width="8" height="8" viewBox="0 0 8 8"><g fill="none" stroke="#9a9aa5" stroke-width=".95" stroke-linecap="round"><path d="M5.6 1 A3.3 3.3 0 1 0 7.1 3.4"/><path d="M3.9 2.4 V4.1 H5.1"/><path d="M6.6 .6 V1.5 H7.5" stroke-width=".7"/></g></svg>Expected</div><div class="v bl" style="top:12.6px;font-size:11px;line-height:14px">0h 0m</div></div>
</div>
<div class="card" id="c3" style="left:635px;top:94px;width:233px;height:193px">
  <div class="ct">
    <svg class="abs" style="left:5px;top:8px" width="17" height="14" viewBox="0 0 17 14"><g stroke="#2a397c" fill="none" stroke-width="1" stroke-linejoin="round"><path d="M7.6 2.2 A5.2 5.2 0 1 0 12.4 11 L8.6 6.6 V2.2"/><path d="M10 1 A5 5 0 0 1 14.6 5.4 H10 Z"/><path d="M10.8 7.4 H15.6 Q15.4 9.6 13.8 10.8 Z" fill="#2a397c" stroke-width=".6"/></g><circle cx="3.4" cy="5" r="2.6" fill="#2a397c"/><path d="M3.4 1.6 V8.4 M.4 3.3 L6.4 6.7 M.4 6.7 L6.4 3.3" stroke="#2a397c" stroke-width="1.3"/><circle cx="3.4" cy="5" r="1" fill="#fff"/></svg>
    <div class="t" style="left:27.6px;transform:scaleX(0.949)">Daily Activity Strength</div><span class="info" style="left:133.8px"></span>
  </div>
  <div class="sc" style="left:0px;top:29.3px;width:59.6px;height:29.5px;background:#f3f4f6"><div class="l" style="top:3px">Strength</div><div class="v pu" style="top:14.6px;font-size:9.2px;line-height:14px">0.00%</div></div>
  <div class="sc" style="left:59.6px;top:29.3px;width:58.6px;height:29.5px;background:#f0f4f2"><div class="l" style="top:3px"><svg class="ck" width="8" height="8" viewBox="0 0 8 8"><g fill="none" stroke="#9a9aa5" stroke-width=".95" stroke-linecap="round"><path d="M5.6 1 A3.3 3.3 0 1 0 7.1 3.4"/><path d="M3.9 2.4 V4.1 H5.1"/><path d="M6.6 .6 V1.5 H7.5" stroke-width=".7"/></g></svg>Worked</div><div class="v gr" style="top:14.6px;font-size:9.2px;line-height:14px">0h 0m</div></div>
  <div class="sc" style="left:118.2px;top:29.3px;width:57.8px;height:29.5px;background:#f0f3f8"><div class="l" style="top:3px"><svg class="ck" width="8" height="8" viewBox="0 0 8 8"><g fill="none" stroke="#9a9aa5" stroke-width=".95" stroke-linecap="round"><path d="M5.6 1 A3.3 3.3 0 1 0 7.1 3.4"/><path d="M3.9 2.4 V4.1 H5.1"/><path d="M6.6 .6 V1.5 H7.5" stroke-width=".7"/></g></svg>Expected</div><div class="v bl" style="top:14.6px;font-size:9.2px;line-height:14px">0h 0m</div></div>
  <div class="sc" style="left:176px;top:29.3px;width:57px;height:29.5px;background:#fbf0ee"><div class="l" style="top:3px"><svg class="ck" width="8" height="8" viewBox="0 0 8 8"><g fill="none" stroke="#9a9aa5" stroke-width=".95" stroke-linecap="round"><path d="M5.6 1 A3.3 3.3 0 1 0 7.1 3.4"/><path d="M3.9 2.4 V4.1 H5.1"/><path d="M6.6 .6 V1.5 H7.5" stroke-width=".7"/></g></svg>Leave</div><div class="v rd" style="top:14.6px;font-size:9.2px;line-height:14px">0h 0m</div></div>

  <svg class="abs" style="left:0;top:0" width="233" height="193" viewBox="0 0 233 193"><path d="M30 67.0 H229" stroke="#ededf1" stroke-width=".8"/><text class="ax" x="27" y="69.7" text-anchor="end">1.0</text><path d="M30 84.8 H229" stroke="#ededf1" stroke-width=".8"/><text class="ax" x="27" y="87.5" text-anchor="end">0.8</text><path d="M30 102.7 H229" stroke="#ededf1" stroke-width=".8"/><text class="ax" x="27" y="105.4" text-anchor="end">0.6</text><path d="M30 120.5 H229" stroke="#ededf1" stroke-width=".8"/><text class="ax" x="27" y="123.2" text-anchor="end">0.4</text><path d="M30 138.4 H229" stroke="#ededf1" stroke-width=".8"/><text class="ax" x="27" y="141.1" text-anchor="end">0.2</text><path d="M30 156.2 H229" stroke="#ededf1" stroke-width=".8"/><text class="ax" x="27" y="158.9" text-anchor="end">0</text><path d="M33.0 67 V159.2" stroke="#ededf1" stroke-width=".8"/><text class="ax" transform="translate(35.2 165.6) rotate(-50)" text-anchor="end" font-size="7.4">01</text><path d="M40.2 67 V156.2" stroke="#f0f0f4" stroke-width=".7" stroke-dasharray="2 2"/><path d="M47.5 67 V159.2" stroke="#ededf1" stroke-width=".8"/><text class="ax" transform="translate(49.7 165.6) rotate(-50)" text-anchor="end" font-size="7.4">03</text><path d="M54.7 67 V156.2" stroke="#f0f0f4" stroke-width=".7" stroke-dasharray="2 2"/><path d="M61.9 67 V159.2" stroke="#ededf1" stroke-width=".8"/><text class="ax" transform="translate(64.1 165.6) rotate(-50)" text-anchor="end" font-size="7.4">05</text><path d="M69.2 67 V156.2" stroke="#f0f0f4" stroke-width=".7" stroke-dasharray="2 2"/><path d="M76.4 67 V159.2" stroke="#ededf1" stroke-width=".8"/><text class="ax" transform="translate(78.6 165.6) rotate(-50)" text-anchor="end" font-size="7.4">07</text><path d="M83.6 67 V156.2" stroke="#f0f0f4" stroke-width=".7" stroke-dasharray="2 2"/><path d="M90.8 67 V159.2" stroke="#ededf1" stroke-width=".8"/><text class="ax" transform="translate(93.0 165.6) rotate(-50)" text-anchor="end" font-size="7.4">09</text><path d="M98.1 67 V156.2" stroke="#f0f0f4" stroke-width=".7" stroke-dasharray="2 2"/><path d="M105.3 67 V159.2" stroke="#ededf1" stroke-width=".8"/><text class="ax" transform="translate(107.5 165.6) rotate(-50)" text-anchor="end" font-size="7.4">11</text><path d="M112.5 67 V156.2" stroke="#f0f0f4" stroke-width=".7" stroke-dasharray="2 2"/><path d="M119.8 67 V159.2" stroke="#ededf1" stroke-width=".8"/><text class="ax" transform="translate(122.0 165.6) rotate(-50)" text-anchor="end" font-size="7.4">13</text><path d="M127.0 67 V156.2" stroke="#f0f0f4" stroke-width=".7" stroke-dasharray="2 2"/><path d="M134.2 67 V159.2" stroke="#ededf1" stroke-width=".8"/><text class="ax" transform="translate(136.4 165.6) rotate(-50)" text-anchor="end" font-size="7.4">15</text><path d="M141.4 67 V156.2" stroke="#f0f0f4" stroke-width=".7" stroke-dasharray="2 2"/><path d="M148.7 67 V159.2" stroke="#ededf1" stroke-width=".8"/><text class="ax" transform="translate(150.9 165.6) rotate(-50)" text-anchor="end" font-size="7.4">17</text><path d="M155.9 67 V156.2" stroke="#f0f0f4" stroke-width=".7" stroke-dasharray="2 2"/><path d="M163.1 67 V159.2" stroke="#ededf1" stroke-width=".8"/><text class="ax" transform="translate(165.3 165.6) rotate(-50)" text-anchor="end" font-size="7.4">19</text><path d="M170.4 67 V156.2" stroke="#f0f0f4" stroke-width=".7" stroke-dasharray="2 2"/><path d="M177.6 67 V159.2" stroke="#ededf1" stroke-width=".8"/><text class="ax" transform="translate(179.8 165.6) rotate(-50)" text-anchor="end" font-size="7.4">21</text><path d="M184.8 67 V156.2" stroke="#f0f0f4" stroke-width=".7" stroke-dasharray="2 2"/><path d="M192.1 67 V159.2" stroke="#ededf1" stroke-width=".8"/><text class="ax" transform="translate(194.3 165.6) rotate(-50)" text-anchor="end" font-size="7.4">23</text><path d="M199.3 67 V156.2" stroke="#f0f0f4" stroke-width=".7" stroke-dasharray="2 2"/><path d="M206.5 67 V159.2" stroke="#ededf1" stroke-width=".8"/><text class="ax" transform="translate(208.7 165.6) rotate(-50)" text-anchor="end" font-size="7.4">25</text><path d="M213.8 67 V156.2" stroke="#f0f0f4" stroke-width=".7" stroke-dasharray="2 2"/><path d="M221.0 67 V159.2" stroke="#ededf1" stroke-width=".8"/><text class="ax" transform="translate(223.2 165.6) rotate(-50)" text-anchor="end" font-size="7.4">27</text><path d="M228.2 67 V156.2" stroke="#f0f0f4" stroke-width=".7" stroke-dasharray="2 2"/><path d="M33 67 V156.2" stroke="#dedee4" stroke-width=".8"/><path d="M33 156.2 H228.2" stroke="#f5861f" stroke-width="2.2"/><circle cx="33.0" cy="156.2" r="2" fill="#fbb877" stroke="#f5923a" stroke-width=".7"/><circle cx="40.2" cy="156.2" r="2" fill="#fbb877" stroke="#f5923a" stroke-width=".7"/><circle cx="47.5" cy="156.2" r="2" fill="#fbb877" stroke="#f5923a" stroke-width=".7"/><circle cx="54.7" cy="156.2" r="2" fill="#fbb877" stroke="#f5923a" stroke-width=".7"/><circle cx="61.9" cy="156.2" r="2" fill="#fbb877" stroke="#f5923a" stroke-width=".7"/><circle cx="69.2" cy="156.2" r="2" fill="#fbb877" stroke="#f5923a" stroke-width=".7"/><circle cx="76.4" cy="156.2" r="2" fill="#fbb877" stroke="#f5923a" stroke-width=".7"/><circle cx="83.6" cy="156.2" r="2" fill="#fbb877" stroke="#f5923a" stroke-width=".7"/><circle cx="90.8" cy="156.2" r="2" fill="#fbb877" stroke="#f5923a" stroke-width=".7"/><circle cx="98.1" cy="156.2" r="2" fill="#fbb877" stroke="#f5923a" stroke-width=".7"/><circle cx="105.3" cy="156.2" r="2" fill="#fbb877" stroke="#f5923a" stroke-width=".7"/><circle cx="112.5" cy="156.2" r="2" fill="#fbb877" stroke="#f5923a" stroke-width=".7"/><circle cx="119.8" cy="156.2" r="2" fill="#fbb877" stroke="#f5923a" stroke-width=".7"/><circle cx="127.0" cy="156.2" r="2" fill="#fbb877" stroke="#f5923a" stroke-width=".7"/><circle cx="134.2" cy="156.2" r="2" fill="#fbb877" stroke="#f5923a" stroke-width=".7"/><circle cx="141.4" cy="156.2" r="2" fill="#fbb877" stroke="#f5923a" stroke-width=".7"/><circle cx="148.7" cy="156.2" r="2" fill="#fbb877" stroke="#f5923a" stroke-width=".7"/><circle cx="155.9" cy="156.2" r="2" fill="#fbb877" stroke="#f5923a" stroke-width=".7"/><circle cx="163.1" cy="156.2" r="2" fill="#fbb877" stroke="#f5923a" stroke-width=".7"/><circle cx="170.4" cy="156.2" r="2" fill="#fbb877" stroke="#f5923a" stroke-width=".7"/><circle cx="177.6" cy="156.2" r="2" fill="#fbb877" stroke="#f5923a" stroke-width=".7"/><circle cx="184.8" cy="156.2" r="2" fill="#fbb877" stroke="#f5923a" stroke-width=".7"/><circle cx="192.1" cy="156.2" r="2" fill="#fbb877" stroke="#f5923a" stroke-width=".7"/><circle cx="199.3" cy="156.2" r="2" fill="#fbb877" stroke="#f5923a" stroke-width=".7"/><circle cx="206.5" cy="156.2" r="2" fill="#fbb877" stroke="#f5923a" stroke-width=".7"/><circle cx="213.8" cy="156.2" r="2" fill="#fbb877" stroke="#f5923a" stroke-width=".7"/><circle cx="221.0" cy="156.2" r="2" fill="#fbb877" stroke="#f5923a" stroke-width=".7"/><circle cx="228.2" cy="156.2" r="2" fill="#fbb877" stroke="#f5923a" stroke-width=".7"/><text class="ax" transform="translate(11.5 112) rotate(-90)" text-anchor="middle">Hours</text><text class="ax" x="131" y="184.6" text-anchor="middle">Days</text></svg>
</div>
<div class="card" id="c4" style="left:876px;top:94px;width:265px;height:193px">
  <div class="ct">
    <svg class="abs" style="left:5.5px;top:7.5px" width="16" height="14" viewBox="0 0 16 14"><g stroke="#2a397c" fill="none"><path d="M1.5 .6 V7" stroke-width="1" stroke-dasharray="1.6 .7"/><circle cx="2.2" cy="10" r="1.6" fill="#2a397c" stroke-width=".8"/><path d="M5 12.2 H14.6" stroke-width="1.1"/><path d="M4.9 7 V9.4 M7.8 3.2 V9.8 M10.8 5.2 V9.4 M13.5 2.2 V9.8" stroke-width="1.2"/></g><path d="M1.6 9.4 L3.2 10 L1.6 10.6 Z" fill="#fff"/></svg>
    <div class="t" style="left:27.9px;transform:scaleX(0.953)">Monthly Activity Strength</div><span class="info" style="left:148.2px"></span>
  </div>
  <div class="sc" style="left:0px;top:29.3px;width:60.4px;height:29.5px;background:#f3f4f6"><div class="l" style="top:3px">Strength</div><div class="v pu" style="top:14px;font-size:11.3px;line-height:14px">0.00%</div></div>
  <div class="sc" style="left:60.4px;top:29.3px;width:67.2px;height:29.5px;background:#f0f4f2"><div class="l" style="top:3px"><svg class="ck" width="8" height="8" viewBox="0 0 8 8"><g fill="none" stroke="#9a9aa5" stroke-width=".95" stroke-linecap="round"><path d="M5.6 1 A3.3 3.3 0 1 0 7.1 3.4"/><path d="M3.9 2.4 V4.1 H5.1"/><path d="M6.6 .6 V1.5 H7.5" stroke-width=".7"/></g></svg>Worked</div><div class="v gr" style="top:14px;font-size:11.3px;line-height:14px">0h 0m</div></div>
  <div class="sc" style="left:127.6px;top:29.3px;width:70.4px;height:29.5px;background:#f0f3f8"><div class="l" style="top:3px"><svg class="ck" width="8" height="8" viewBox="0 0 8 8"><g fill="none" stroke="#9a9aa5" stroke-width=".95" stroke-linecap="round"><path d="M5.6 1 A3.3 3.3 0 1 0 7.1 3.4"/><path d="M3.9 2.4 V4.1 H5.1"/><path d="M6.6 .6 V1.5 H7.5" stroke-width=".7"/></g></svg>Expected</div><div class="v bl" style="top:14px;font-size:11.3px;line-height:14px">0h 0m</div></div>
  <div class="sc" style="left:198px;top:29.3px;width:67px;height:29.5px;background:#fbf0ee"><div class="l" style="top:3px"><svg class="ck" width="8" height="8" viewBox="0 0 8 8"><g fill="none" stroke="#9a9aa5" stroke-width=".95" stroke-linecap="round"><path d="M5.6 1 A3.3 3.3 0 1 0 7.1 3.4"/><path d="M3.9 2.4 V4.1 H5.1"/><path d="M6.6 .6 V1.5 H7.5" stroke-width=".7"/></g></svg>Leave</div><div class="v rd" style="top:14px;font-size:11.3px;line-height:14px">0h 0m</div></div>

  <svg class="abs" style="left:0;top:0" width="265" height="193" viewBox="0 0 265 193"><path d="M30.700000000000003 67.0 H262.7" stroke="#ededf1" stroke-width=".8"/><text class="ax" x="27.6" y="69.7" text-anchor="end">1.0</text><path d="M30.700000000000003 85.4 H262.7" stroke="#ededf1" stroke-width=".8"/><text class="ax" x="27.6" y="88.1" text-anchor="end">0.8</text><path d="M30.700000000000003 103.8 H262.7" stroke="#ededf1" stroke-width=".8"/><text class="ax" x="27.6" y="106.5" text-anchor="end">0.6</text><path d="M30.700000000000003 122.3 H262.7" stroke="#ededf1" stroke-width=".8"/><text class="ax" x="27.6" y="125.0" text-anchor="end">0.4</text><path d="M30.700000000000003 140.7 H262.7" stroke="#ededf1" stroke-width=".8"/><text class="ax" x="27.6" y="143.4" text-anchor="end">0.2</text><path d="M30.700000000000003 159.1 H262.7" stroke="#ededf1" stroke-width=".8"/><text class="ax" x="27.6" y="161.8" text-anchor="end">0</text><path d="M33.7 67 V162.1" stroke="#ebebf0" stroke-width=".8" stroke-dasharray="3 2"/><text class="ax" x="43.2" y="172.7" text-anchor="middle">01</text><path d="M52.8 67 V162.1" stroke="#ebebf0" stroke-width=".8" stroke-dasharray="3 2"/><text class="ax" x="62.3" y="172.7" text-anchor="middle">02</text><path d="M71.9 67 V162.1" stroke="#ebebf0" stroke-width=".8" stroke-dasharray="3 2"/><text class="ax" x="81.4" y="172.7" text-anchor="middle">03</text><path d="M91.0 67 V162.1" stroke="#ebebf0" stroke-width=".8" stroke-dasharray="3 2"/><text class="ax" x="100.5" y="172.7" text-anchor="middle">04</text><path d="M110.0 67 V162.1" stroke="#ebebf0" stroke-width=".8" stroke-dasharray="3 2"/><text class="ax" x="119.6" y="172.7" text-anchor="middle">05</text><path d="M129.1 67 V162.1" stroke="#ebebf0" stroke-width=".8" stroke-dasharray="3 2"/><text class="ax" x="138.7" y="172.7" text-anchor="middle">06</text><path d="M148.2 67 V162.1" stroke="#ebebf0" stroke-width=".8" stroke-dasharray="3 2"/><text class="ax" x="157.7" y="172.7" text-anchor="middle">07</text><path d="M167.3 67 V162.1" stroke="#ebebf0" stroke-width=".8" stroke-dasharray="3 2"/><text class="ax" x="176.8" y="172.7" text-anchor="middle">08</text><path d="M186.4 67 V162.1" stroke="#ebebf0" stroke-width=".8" stroke-dasharray="3 2"/><text class="ax" x="195.9" y="172.7" text-anchor="middle">09</text><path d="M205.4 67 V162.1" stroke="#ebebf0" stroke-width=".8" stroke-dasharray="3 2"/><text class="ax" x="215.0" y="172.7" text-anchor="middle">10</text><path d="M224.5 67 V162.1" stroke="#ebebf0" stroke-width=".8" stroke-dasharray="3 2"/><text class="ax" x="234.1" y="172.7" text-anchor="middle">11</text><path d="M243.6 67 V162.1" stroke="#ebebf0" stroke-width=".8" stroke-dasharray="3 2"/><text class="ax" x="253.2" y="172.7" text-anchor="middle">12</text><path d="M262.7 67 V162.1" stroke="#ebebf0" stroke-width=".8" stroke-dasharray="3 2"/><path d="M33.7 67 V159.1" stroke="#dedee4" stroke-width=".8"/><text class="ax" transform="translate(11.2 112.5) rotate(-90)" text-anchor="middle">Hours</text><text class="ax" x="148" y="185.2" text-anchor="middle">Months</text></svg>
</div>

<!-- ================= ROW 2 ================= -->
<div class="card" id="c5" style="left:177px;top:295px;width:209px;height:258px">
  <div class="ct">
    <svg class="abs" style="left:6px;top:7px" width="16" height="14" viewBox="0 0 16 14"><g stroke="#2a397c" fill="none" stroke-width="1.1" stroke-linecap="round" stroke-linejoin="round"><path d="M8.6 1.6 A5.8 5.8 0 1 0 12.8 6"/><path d="M6.6 4.2 V7 L8.4 9.6"/></g><circle cx="11.4" cy="2.4" r="1.3" fill="#2a397c"/><path d="M9.2 5.9 Q9.2 4 11.4 4 Q13.6 4 13.6 5.9 Z" fill="#2a397c"/><path d="M14.2 1 L14.8 .4" stroke="#2a397c" stroke-width=".7"/></svg>
    <div class="t" style="left:28px;transform:scaleX(0.942)">Shift Schedule</div><span class="info" style="left:98.7px"></span>
  </div>
  <div class="dy" style="left:7.3px;">24<br>Sun</div>
  <div class="dy" style="left:35.8px;">25<br>Mon</div>
  <div class="dy" style="left:64.4px;">26<br>Tue</div>
  <div class="dy" style="left:92.9px;">27<br>Wed</div>
  <div class="dy" style="left:121.4px;">28<br>Thu</div>
  <div class="dy" style="left:150.0px;background:#2f5bd7;color:#fff;border-color:#2f5bd7">29<br>Fri</div>
  <div class="dy" style="left:178.5px;">30<br>Sat</div>

  <svg class="abs" style="left:84px;top:138px" width="40" height="34" viewBox="0 0 40 34">
    <path d="M6 22 Q1 14 9 8 Q16 1 26 3 Q37 5 37 14 Q37 24 26 29 Q12 34 6 22 Z" fill="#dfe4f8"/>
    <g stroke="#4a62b8" fill="none" stroke-width=".9" stroke-linecap="round"><path d="M8.8 13 V24 Q8.8 27 11.6 27 H33"/></g>
    <g stroke="#4a62b8" stroke-width=".8" fill="#a9b8ec"><rect x="13.4" y="17.4" width="2.9" height="6" rx="1.2"/><rect x="18.2" y="12.2" width="2.9" height="11.2" rx="1.2"/><rect x="23" y="15" width="2.9" height="8.4" rx="1.2"/><rect x="27.6" y="10.4" width="2.9" height="13" rx="1.2"/></g>
    <circle cx="12.6" cy="10" r="3.8" fill="#e5534b"/><path d="M13.9 8.7 Q12.6 7.8 11.6 8.7 Q11 9.7 12.6 10.1 Q14.2 10.6 13.5 11.5 Q12.5 12.2 11.3 11.3" stroke="#fff" stroke-width=".8" fill="none"/>
  </svg>
  <div class="abs" style="left:0;right:0;top:175.5px;text-align:center;font-size:7.4px;line-height:10px;color:#a3a6b0">No Record Found</div>
</div>
<div class="card" id="c6" style="left:394px;top:295px;width:233px;height:258px">
  <div class="ct">
    <svg class="abs" style="left:5px;top:7.5px" width="17" height="14" viewBox="0 0 17 14"><g stroke="#2a397c" fill="none" stroke-width="1" stroke-linecap="round" stroke-linejoin="round"><path d="M8 12.6 H2.6 Q1 12.6 1 11 V3.8 Q1 2.2 2.6 2.2 H10.4 Q12 2.2 12 3.8 V6.4"/><path d="M1 5.2 H12 M3.6 .8 V3.2 M9.4 .8 V3.2"/><circle cx="12.2" cy="10" r="3.1"/></g><path d="M12.2 10 V7.6 A2.4 2.4 0 0 0 9.9 10.6 Z" fill="#2a397c"/><rect x="13.4" y="10.6" width="2.2" height="2.2" fill="#2a397c"/></svg>
    <div class="t" style="left:27.6px;transform:scaleX(0.932)">Leaves</div><span class="info" style="left:64.6px"></span>
    <div class="abs" style="left:213.2px;top:7px;width:13.6px;height:13.6px;border-radius:50%;background:#dfe4f8"></div>
    <div class="abs" style="left:216.5px;top:13.4px;width:7px;height:.9px;background:#2a397c"></div>
    <div class="abs" style="left:219.55px;top:10.3px;width:.9px;height:7px;background:#2a397c"></div>
  </div>
  <div class="abs" style="left:200px;top:29px;width:1px;height:229px;background:#e9e9ee"></div>
  <div class="abs" style="left:0;top:33.5px;width:200px;text-align:center;font-size:7.4px;line-height:10px;font-weight:bold;color:#3a3a3a">Paid</div>
  <div class="abs" style="left:201px;top:33.5px;width:32px;text-align:center;font-size:7.4px;line-height:10px;font-weight:bold;color:#3a3a3a">Unpaid</div>
  <svg class="abs" style="left:0;top:0" width="233" height="258" viewBox="0 0 233 258">
    <path d="M15.00 140.80 Q11.80 140.80 11.86 137.60 A88 88 0 0 1 123.12 55.95 Q126.19 56.85 125.23 59.90 L116.95 86.23 Q115.99 89.29 112.91 88.42 A54 54 0 0 0 45.89 137.60 Q45.80 140.80 42.60 140.80 Z" fill="#346fd6"/><path d="M126.78 60.41 Q127.80 57.37 130.81 58.44 A88 88 0 0 1 148.20 67.31 Q150.84 69.11 148.98 71.72 L132.98 94.20 Q131.12 96.81 128.46 95.03 A54 54 0 0 0 119.98 90.71 Q116.98 89.61 118.00 86.57 Z" fill="#18a047"/><path d="M150.30 72.68 Q152.21 70.11 154.74 72.06 A88 88 0 0 1 187.74 137.60 Q187.80 140.80 184.60 140.80 L157.00 140.80 Q153.80 140.80 153.71 137.60 A54 54 0 0 0 134.47 99.40 Q131.96 97.42 133.86 94.85 Z" fill="#de2727"/>
    <clipPath id="upc"><rect x="210.9" y="54.8" width="11.9" height="192.6" rx="5.95"/></clipPath>
    <g clip-path="url(#upc)"><rect x="210" y="54" width="14" height="65.2" fill="#346fd6"/><rect x="210" y="119.2" width="14" height="63.4" fill="#18a047"/><rect x="210" y="182.6" width="14" height="66" fill="#de2727"/></g>
  </svg>
  <div class="abs" style="left:0;top:100.5px;width:200px;text-align:center;font-size:16.8px;line-height:18px;color:#222;letter-spacing:.5px;-webkit-text-stroke:.3px #222">6.00</div>
  <div class="abs" style="left:0;top:120.5px;width:200px;text-align:center;font-size:7.4px;line-height:10px;color:#8c8c94">Available Balance</div>
  <div class="abs" style="left:0;top:175px;width:200px;height:1px;background:#e9e9ee"></div>
  <div class="abs" style="left:5.6px;top:181.5px;width:189px;height:21px;border-radius:4px;background:#eaf6ee;border:1px solid #d3ecda"></div>
  <div class="abs" style="left:10.5px;top:187.0px;font-size:7.5px;line-height:10px;color:#27a045;-webkit-text-stroke:.25px #27a045">Approved</div>
  <div class="abs" style="left:156.5px;top:186.5px;width:33.5px;height:11.4px;border-radius:6px;background:#18a047;color:#fff;font-size:8.6px;line-height:11.6px;text-align:center">1.00</div>
  <div class="abs" style="left:5.6px;top:207px;width:189px;height:21px;border-radius:4px;background:#fbefee;border:1px solid #f6e4e2"></div>
  <div class="abs" style="left:10.5px;top:212.5px;font-size:7.5px;line-height:10px;color:#e0453a;-webkit-text-stroke:.25px #e0453a">Rejected</div>
  <div class="abs" style="left:156.5px;top:212px;width:33.5px;height:11.4px;border-radius:6px;background:#de2727;color:#fff;font-size:8.6px;line-height:11.6px;text-align:center">3.00</div>
  <div class="abs" style="left:5.6px;top:232.2px;width:189px;height:21px;border-radius:4px;background:#fdf3ea;border:1px solid #f9eadb"></div>
  <div class="abs" style="left:10.5px;top:237.7px;font-size:7.5px;line-height:10px;color:#e8962a;-webkit-text-stroke:.25px #e8962a">Pending</div>
  <div class="abs" style="left:156.5px;top:237.2px;width:33.5px;height:11.4px;border-radius:6px;background:#e8962a;color:#fff;font-size:8.6px;line-height:11.6px;text-align:center">0.00</div>
</div>
<div class="card" id="c7" style="left:635px;top:295px;width:233px;height:258px">
  <div class="ct">
    <svg class="abs" style="left:5px;top:7.5px" width="16" height="14" viewBox="0 0 16 14"><g stroke="#2a397c" fill="none" stroke-width="1" stroke-linecap="round" stroke-linejoin="round"><path d="M8 12.6 H2.6 Q1 12.6 1 11 V3.8 Q1 2.2 2.6 2.2 H10.4 Q12 2.2 12 3.8 V6.2"/><path d="M1 5.2 H12 M3.6 .8 V3.2 M9.4 .8 V3.2"/><circle cx="11.8" cy="10" r="3.1"/><path d="M11.8 8.4 V10.1 H13"/></g></svg>
    <div class="t" style="left:26.8px;transform:scaleX(0.987)">Attendance | Aug-2025</div><span class="info" style="left:138.3px"></span>
  </div>
  <div class="abs" style="left:0.00px;top:33.5px;width:33.29px;text-align:center;font-size:8.8px;line-height:12px;font-weight:bold;color:#333">Sun</div><div class="abs" style="left:33.29px;top:33.5px;width:33.29px;text-align:center;font-size:8.8px;line-height:12px;font-weight:bold;color:#333">Mon</div><div class="abs" style="left:66.57px;top:33.5px;width:33.29px;text-align:center;font-size:8.8px;line-height:12px;font-weight:bold;color:#333">Tue</div><div class="abs" style="left:99.86px;top:33.5px;width:33.29px;text-align:center;font-size:8.8px;line-height:12px;font-weight:bold;color:#333">Wed</div><div class="abs" style="left:133.14px;top:33.5px;width:33.29px;text-align:center;font-size:8.8px;line-height:12px;font-weight:bold;color:#333">Thu</div><div class="abs" style="left:166.43px;top:33.5px;width:33.29px;text-align:center;font-size:8.8px;line-height:12px;font-weight:bold;color:#333">Fri</div><div class="abs" style="left:199.71px;top:33.5px;width:33.29px;text-align:center;font-size:8.8px;line-height:12px;font-weight:bold;color:#333">Sat</div>
  <div class="cc" style="left:0.00px;top:49.30px;width:33.29px;height:34.85px;background:#ebecee;color:#a9abb2"><span style="position:relative">27</span></div><div class="cc" style="left:33.29px;top:49.30px;width:33.29px;height:34.85px;background:#ebecee;color:#a9abb2"><span style="position:relative">28</span></div><div class="cc" style="left:66.57px;top:49.30px;width:33.29px;height:34.85px;background:#ebecee;color:#a9abb2"><span style="position:relative">29</span></div><div class="cc" style="left:99.86px;top:49.30px;width:33.29px;height:34.85px;background:#ebecee;color:#a9abb2"><span style="position:relative">30</span></div><div class="cc" style="left:133.14px;top:49.30px;width:33.29px;height:34.85px;background:#ebecee;color:#a9abb2"><span style="position:relative">31</span></div><div class="cc" style="left:166.43px;top:49.30px;width:33.29px;height:34.85px;color:#505050"><span style="position:relative">01</span></div><div class="cc" style="left:199.71px;top:49.30px;width:33.29px;height:34.85px;color:#505050"><span style="position:relative">02</span></div><div class="cc" style="left:0.00px;top:84.15px;width:33.29px;height:34.85px;color:#505050"><span style="position:relative">03</span></div><div class="cc" style="left:33.29px;top:84.15px;width:33.29px;height:34.85px;color:#505050"><span style="position:relative">04</span></div><div class="cc" style="left:66.57px;top:84.15px;width:33.29px;height:34.85px;color:#505050"><span style="position:relative">05</span></div><div class="cc" style="left:99.86px;top:84.15px;width:33.29px;height:34.85px;color:#505050"><span style="position:relative">06</span></div><div class="cc" style="left:133.14px;top:84.15px;width:33.29px;height:34.85px;color:#505050"><span style="position:relative">07</span></div><div class="cc" style="left:166.43px;top:84.15px;width:33.29px;height:34.85px;color:#505050"><span style="position:relative">08</span></div><div class="cc" style="left:199.71px;top:84.15px;width:33.29px;height:34.85px;color:#505050"><span style="position:relative">09</span></div><div class="cc" style="left:0.00px;top:119.00px;width:33.29px;height:34.85px;color:#505050"><span style="position:relative">10</span></div><div class="cc" style="left:33.29px;top:119.00px;width:33.29px;height:34.85px;color:#505050"><span style="position:relative">11</span></div><div class="cc" style="left:66.57px;top:119.00px;width:33.29px;height:34.85px;color:#505050"><span style="position:relative">12</span></div><div class="cc" style="left:99.86px;top:119.00px;width:33.29px;height:34.85px;color:#505050"><span style="position:relative">13</span></div><div class="cc" style="left:133.14px;top:119.00px;width:33.29px;height:34.85px;color:#505050"><span style="position:relative">14</span></div><div class="cc" style="left:166.43px;top:119.00px;width:33.29px;height:34.85px;color:#505050"><span style="position:relative">15</span></div><div class="cc" style="left:199.71px;top:119.00px;width:33.29px;height:34.85px;color:#505050"><span style="position:relative">16</span></div><div class="cc" style="left:0.00px;top:153.85px;width:33.29px;height:34.85px;color:#505050"><span style="position:relative">17</span></div><div class="cc" style="left:33.29px;top:153.85px;width:33.29px;height:34.85px;color:#505050"><span style="position:relative">18</span></div><div class="cc" style="left:66.57px;top:153.85px;width:33.29px;height:34.85px;color:#505050"><span style="position:relative">19</span></div><div class="cc" style="left:99.86px;top:153.85px;width:33.29px;height:34.85px;color:#505050"><span style="position:relative">20</span></div><div class="cc" style="left:133.14px;top:153.85px;width:33.29px;height:34.85px;color:#505050"><span style="position:relative">21</span></div><div class="cc" style="left:166.43px;top:153.85px;width:33.29px;height:34.85px;color:#505050"><span style="position:relative">22</span></div><div class="cc" style="left:199.71px;top:153.85px;width:33.29px;height:34.85px;color:#505050"><span style="position:relative">23</span></div><div class="cc" style="left:0.00px;top:188.70px;width:33.29px;height:34.85px;color:#505050"><span style="position:relative">24</span></div><div class="cc" style="left:33.29px;top:188.70px;width:33.29px;height:34.85px;color:#505050"><span style="position:relative">25</span></div><div class="cc" style="left:66.57px;top:188.70px;width:33.29px;height:34.85px;color:#505050"><span style="position:relative">26</span></div><div class="cc" style="left:99.86px;top:188.70px;width:33.29px;height:34.85px;color:#505050"><span style="position:relative">27</span></div><div class="cc" style="left:133.14px;top:188.70px;width:33.29px;height:34.85px;color:#505050"><span style="position:relative">28</span></div><div class="cc" style="left:166.43px;top:188.70px;width:33.29px;height:34.85px;color:#5a8df8"><span style="position:absolute;left:.6px;top:2px;width:8px;height:8px;border-radius:50%;background:#c3d5fb"></span><span style="position:relative">29</span></div><div class="cc" style="left:199.71px;top:188.70px;width:33.29px;height:34.85px;color:#505050"><span style="position:relative">30</span></div><div class="cc" style="left:0.00px;top:223.55px;width:33.29px;height:34.85px;color:#505050"><span style="position:relative">31</span></div><div class="cc" style="left:33.29px;top:223.55px;width:33.29px;height:34.85px;background:#ebecee;color:#a9abb2"><span style="position:relative">01</span></div><div class="cc" style="left:66.57px;top:223.55px;width:33.29px;height:34.85px;background:#ebecee;color:#a9abb2"><span style="position:relative">02</span></div><div class="cc" style="left:99.86px;top:223.55px;width:33.29px;height:34.85px;background:#ebecee;color:#a9abb2"><span style="position:relative">03</span></div><div class="cc" style="left:133.14px;top:223.55px;width:33.29px;height:34.85px;background:#ebecee;color:#a9abb2"><span style="position:relative">04</span></div><div class="cc" style="left:166.43px;top:223.55px;width:33.29px;height:34.85px;background:#ebecee;color:#a9abb2"><span style="position:relative">05</span></div><div class="cc" style="left:199.71px;top:223.55px;width:33.29px;height:34.85px;background:#ebecee;color:#a9abb2"><span style="position:relative">06</span></div>
  <div class="abs" style="left:33.29px;top:29px;width:0;height:229px;border-left:1px dashed #efeff2"></div><div class="abs" style="left:66.57px;top:29px;width:0;height:229px;border-left:1px dashed #efeff2"></div><div class="abs" style="left:99.86px;top:29px;width:0;height:229px;border-left:1px dashed #efeff2"></div><div class="abs" style="left:133.14px;top:29px;width:0;height:229px;border-left:1px dashed #efeff2"></div><div class="abs" style="left:166.43px;top:29px;width:0;height:229px;border-left:1px dashed #efeff2"></div><div class="abs" style="left:199.71px;top:29px;width:0;height:229px;border-left:1px dashed #efeff2"></div><div class="abs" style="left:0;top:49.30px;width:233px;height:0;border-top:1px dashed #efeff2"></div><div class="abs" style="left:0;top:84.15px;width:233px;height:0;border-top:1px dashed #efeff2"></div><div class="abs" style="left:0;top:119.00px;width:233px;height:0;border-top:1px dashed #efeff2"></div><div class="abs" style="left:0;top:153.85px;width:233px;height:0;border-top:1px dashed #efeff2"></div><div class="abs" style="left:0;top:188.70px;width:233px;height:0;border-top:1px dashed #efeff2"></div><div class="abs" style="left:0;top:223.55px;width:233px;height:0;border-top:1px dashed #efeff2"></div>
</div>
<div class="card" id="c8" style="left:876px;top:295px;width:265px;height:258px">
  <div class="ct">
    <svg class="abs" style="left:5px;top:7px" width="12" height="15" viewBox="0 0 12 15"><g stroke="#2a397c" fill="none" stroke-width="1" stroke-linejoin="round"><path d="M3.4 2.6 H1.8 Q.8 2.6 .8 3.6 V12.6 Q.8 13.6 1.8 13.6 H9.6 Q10.6 13.6 10.6 12.6 V3.6 Q10.6 2.6 9.6 2.6 H8"/><rect x="3.6" y="1" width="4.2" height="2.6" rx=".8" fill="#2a397c"/><path d="M2.8 8.2 L3.6 9 L5 7.2 M6.2 8.4 H8.8 M2.8 10.8 H8.8" stroke-width=".8"/></g></svg>
    <div class="t" style="left:22px;transform:scaleX(0.976)">My Task</div><span class="info" style="left:65.2px"></span>
  </div>
  <svg class="abs" style="left:0;top:0" width="265" height="258" viewBox="0 0 265 258"><path d="M81.99 69.51 A74.2 74.2 0 0 1 154.89 144.99 L125.79 144.49 A45.1 45.1 0 0 0 81.49 98.61 Z" fill="#8a8a2b" stroke="#fff" stroke-width=".7"/><path d="M154.89 144.99 A74.2 74.2 0 0 1 79.41 217.89 L79.91 188.79 A45.1 45.1 0 0 0 125.79 144.49 Z" fill="#1f8a30" stroke="#fff" stroke-width=".7"/><path d="M79.41 217.89 A74.2 74.2 0 0 1 81.99 69.51 L81.49 98.61 A45.1 45.1 0 0 0 79.91 188.79 Z" fill="#3300ff" stroke="#fff" stroke-width=".7"/></svg>
  <div class="abs" style="left:177.2px;top:102.6px;width:27px;height:11px;border-radius:6px;background:#8a8a2b;color:#fff;font-size:8.8px;line-height:11.4px;text-align:center;-webkit-text-stroke:.2px #fff">1</div>
  <div class="abs" style="left:209.3px;top:102.1px;font-size:8.6px;line-height:12px;color:#3a3a3a;white-space:nowrap;-webkit-text-stroke:.15px #3a3a3a;letter-spacing:.05px">In Progress</div>
  <div class="abs" style="left:177.2px;top:120.5px;width:27px;height:11px;border-radius:6px;background:#e32828;color:#fff;font-size:8.8px;line-height:11.4px;text-align:center;-webkit-text-stroke:.2px #fff">0</div>
  <div class="abs" style="left:209.3px;top:120.0px;font-size:8.6px;line-height:12px;color:#3a3a3a;white-space:nowrap;-webkit-text-stroke:.15px #3a3a3a;letter-spacing:.05px">On Hold</div>
  <div class="abs" style="left:177.2px;top:138.5px;width:27px;height:11px;border-radius:6px;background:#1f8a30;color:#fff;font-size:8.8px;line-height:11.4px;text-align:center;-webkit-text-stroke:.2px #fff">1</div>
  <div class="abs" style="left:209.3px;top:138.0px;font-size:8.6px;line-height:12px;color:#3a3a3a;white-space:nowrap;-webkit-text-stroke:.15px #3a3a3a;letter-spacing:.05px">Running</div>
  <div class="abs" style="left:177.2px;top:156.4px;width:27px;height:11px;border-radius:6px;background:#9a35f0;color:#fff;font-size:8.8px;line-height:11.4px;text-align:center;-webkit-text-stroke:.2px #fff">0</div>
  <div class="abs" style="left:209.3px;top:155.9px;font-size:8.6px;line-height:12px;color:#3a3a3a;white-space:nowrap;-webkit-text-stroke:.15px #3a3a3a;letter-spacing:.05px">Completed</div>
  <div class="abs" style="left:177.2px;top:174.4px;width:27px;height:11px;border-radius:6px;background:#3300ff;color:#fff;font-size:8.8px;line-height:11.4px;text-align:center;-webkit-text-stroke:.2px #fff">2</div>
  <div class="abs" style="left:209.3px;top:173.9px;font-size:8.6px;line-height:12px;color:#3a3a3a;white-space:nowrap;-webkit-text-stroke:.15px #3a3a3a;letter-spacing:.05px">Closed</div>
</div>

<!-- ================= ROW 3 ================= -->
<div class="card" id="c9" style="left:177px;top:561px;width:209px;height:40px">
  <div class="ct">
    <svg class="abs" style="left:6px;top:7.5px" width="16" height="14" viewBox="0 0 16 14"><g stroke="#2a397c" fill="none" stroke-width="1" stroke-linecap="round" stroke-linejoin="round"><path d="M8 12.6 H2.6 Q1 12.6 1 11 V3.8 Q1 2.2 2.6 2.2 H10.4 Q12 2.2 12 3.8 V6.2"/><path d="M1 5.2 H12 M3.6 .8 V3.2 M9.4 .8 V3.2"/></g></svg>
    <div class="t" style="left:28px;transform:scaleX(0.928)">Recent Leaves</div><span class="info" style="left:99px"></span>
  </div>
</div>
<div class="card" id="c10" style="left:394px;top:561px;width:233px;height:40px">
  <div class="ct">
    <svg class="abs" style="left:5.5px;top:7.5px" width="14" height="14" viewBox="0 0 14 14"><g stroke="#2a397c" fill="none" stroke-width="1.1" stroke-linecap="round" stroke-linejoin="round"><path d="M2 3.6 A5.6 5.6 0 1 1 1.4 7"/><path d="M1.2 1.4 V4 H3.8"/><path d="M7 4 V7.2 L9 8.6"/></g></svg>
    <div class="t" style="left:25.8px;transform:scaleX(0.883)">Recent Activity</div><span class="info" style="left:99.2px"></span>
  </div>
</div>

<div class="abs" style="left:1104px;top:552px;width:43px;height:21px;background:#fdfdfd;border-top-left-radius:5px;z-index:5">
  <svg class="abs" style="left:4.5px;top:4px" width="12" height="12" viewBox="0 0 12 12"><g stroke="#8b90a0" fill="none" stroke-width=".8" stroke-linejoin="round"><circle cx="6" cy="3.6" r="2.6"/><path d="M4.9 3.7 L5.7 4.5 L7.2 2.8" stroke-width=".6"/><path d="M4.8 6.2 V7.6 H2 Q1 7.6 1 8.6 V10.4 H11 V8.6 Q11 7.6 10 7.6 H7.2 V6.2"/><path d="M1.4 11.4 H10.6" stroke-width="1"/></g></svg>
  <div class="abs" style="left:20.6px;top:4.5px;font-size:8.5px;line-height:12px;color:#555">0</div>
  <div class="abs" style="left:33.5px;top:5.2px;width:1.7px;height:1.7px;border-radius:50%;background:#4a5a8a;box-shadow:0 3.9px 0 #4a5a8a,0 7.8px 0 #4a5a8a"></div>
</div>
</body>
</html>
